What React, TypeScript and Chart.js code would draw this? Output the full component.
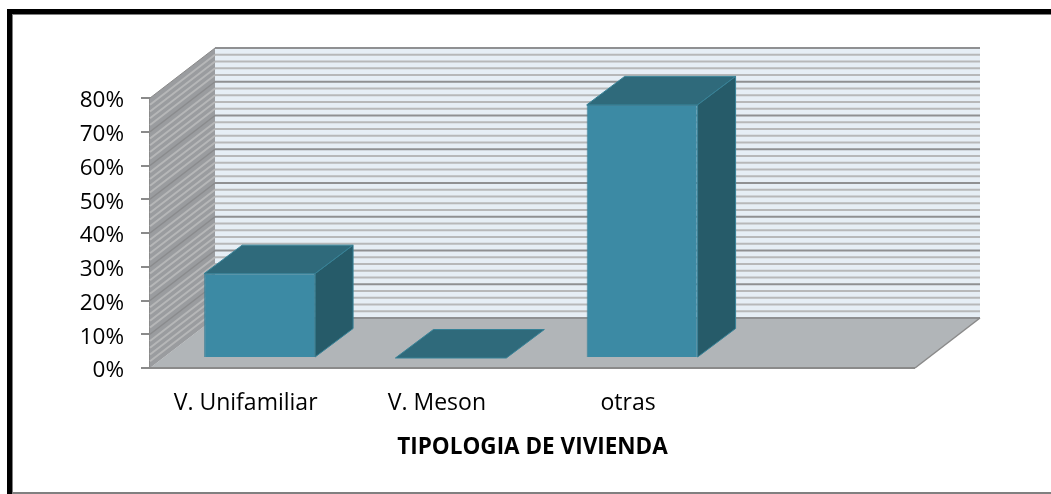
import React, { useEffect, useRef } from "react";
import { Chart, registerables } from "chart.js";

Chart.register(...registerables);

const categories = ["V. Unifamiliar", "V. Meson", "otras", ""];
const shares = [25, 0, 75, null];
const axisMax = 80;
const majorStep = 10;
const minorStep = 2;
const axisTitle = "TIPOLOGIA DE VIVIENDA";

const wallDepth = { x: 65, y: -50 };
const barOffset = { x: 14, y: -10 };
const barDepth = { x: 38, y: -28.5 };

const colors = {
  backWall: "#e6eef5",
  sideWall: "#9a9c9f",
  floor: "#b1b5b8",
  minorBack: "#b7b8b9",
  majorBack: "#8f9092",
  minorSide: "#b6b7b8",
  majorSide: "#8a8b8d",
  edge: "#8a8a8a",
  front: "#3c8aa4",
  frontBorder: "#3f8096",
  top: "#2f6a7b",
  side: "#265b69",
  sideEdge: "#378297",
};

function poly(ctx: CanvasRenderingContext2D, pts: number[][], fill?: string, stroke?: string, lw = 1) {
  ctx.beginPath();
  pts.forEach((p, i) => (i ? ctx.lineTo(p[0], p[1]) : ctx.moveTo(p[0], p[1])));
  ctx.closePath();
  if (fill) {
    ctx.fillStyle = fill;
    ctx.fill();
  }
  if (stroke) {
    ctx.strokeStyle = stroke;
    ctx.lineWidth = lw;
    ctx.stroke();
  }
}

function seg(ctx: CanvasRenderingContext2D, x1: number, y1: number, x2: number, y2: number, c: string, lw: number) {
  ctx.beginPath();
  ctx.moveTo(x1, y1);
  ctx.lineTo(x2, y2);
  ctx.strokeStyle = c;
  ctx.lineWidth = lw;
  ctx.stroke();
}

const frame = {
  id: "frame",
  beforeDraw(chart: any) {
    const { ctx, width, height } = chart;
    ctx.save();
    ctx.fillStyle = "#ffffff";
    ctx.fillRect(0, 0, width, height);
    ctx.fillStyle = "#000000";
    ctx.fillRect(7, 9, width - 7, 5);
    ctx.fillRect(7, 9, 5, height - 9);
    ctx.fillStyle = "#808080";
    ctx.fillRect(12, 14, width - 12, 1);
    ctx.fillRect(12, 14, 1, height - 14);
    ctx.fillRect(12, height - 2, width - 12, 2);
    ctx.restore();
  },
};

const walls = {
  id: "walls",
  beforeDatasetsDraw(chart: any) {
    const { ctx, chartArea: a, scales } = chart;
    const y = scales.y;
    const d = wallDepth;
    ctx.save();
    poly(ctx, [[a.left, a.bottom], [a.right, a.bottom], [a.right + d.x, a.bottom + d.y], [a.left + d.x, a.bottom + d.y]], colors.floor);
    ctx.fillStyle = colors.backWall;
    ctx.fillRect(a.left + d.x, a.top + d.y, a.right - a.left, a.bottom - a.top);
    poly(ctx, [[a.left, a.bottom], [a.left, a.top], [a.left + d.x, a.top + d.y], [a.left + d.x, a.bottom + d.y]], colors.sideWall);
    for (let v = minorStep; v <= axisMax; v += minorStep) {
      const major = v % majorStep === 0;
      const py = y.getPixelForValue(v);
      seg(ctx, a.left + d.x, py + d.y, a.right + d.x, py + d.y, major ? colors.majorBack : colors.minorBack, 2);
      if (v < axisMax) seg(ctx, a.left, py, a.left + d.x, py + d.y, major ? colors.majorSide : colors.minorSide, major ? 1.5 : 2);
    }
    seg(ctx, a.left + d.x, a.bottom + d.y, a.right + d.x, a.bottom + d.y, colors.majorBack, 2);
    seg(ctx, a.left, a.bottom, a.right, a.bottom, colors.edge, 2);
    seg(ctx, a.right, a.bottom, a.right + d.x, a.bottom + d.y, colors.edge, 1.5);
    seg(ctx, a.left, a.top, a.left + d.x, a.top + d.y, colors.edge, 1);
    ctx.restore();
  },
  beforeDatasetDraw(chart: any, args: any) {
    const { ctx } = chart;
    const meta = chart.getDatasetMeta(args.index);
    ctx.save();
    ctx.translate(barOffset.x, barOffset.y);
    const d = barDepth;
    meta.data.forEach((bar: any, i: number) => {
      if (shares[i] === null) return;
      const l = bar.x - bar.width / 2;
      const r = bar.x + bar.width / 2;
      const t = bar.y;
      const b = bar.base;
      poly(ctx, [[l, t], [r, t], [r + d.x, t + d.y], [l + d.x, t + d.y]], colors.top, colors.sideEdge, 1);
      if (b - t > 0.5) {
        poly(ctx, [[r, t], [r + d.x, t + d.y], [r + d.x, b + d.y], [r, b]], colors.side, colors.sideEdge, 1);
      }
    });
  },
  afterDatasetDraw(chart: any) {
    chart.ctx.restore();
  },
};

function shiftLabels(s: any, dy: number) {
  if (s.__shifted) return;
  s.__shifted = true;
  const orig = s.drawLabels.bind(s);
  s.drawLabels = (area: any) => {
    s.ctx.save();
    s.ctx.translate(0, dy);
    orig(area);
    s.ctx.restore();
  };
}

export default function App() {
  const ref = useRef<HTMLCanvasElement>(null);
  useEffect(() => {
    const chart = new Chart(ref.current!, {
      type: "bar",
      data: {
        labels: categories,
        datasets: [
          {
            data: shares,
            backgroundColor: colors.front,
            borderColor: colors.frontBorder,
            borderWidth: (c: any) => (c.raw > 0 ? 1 : 0),
            categoryPercentage: 1,
            barPercentage: 0.58,
            clip: false,
          } as any,
        ],
      },
      plugins: [frame, walls],
      options: {
        animation: false,
        responsive: false,
        layout: { padding: { top: 98, right: 136, left: 0, bottom: 0 } },
        plugins: { legend: { display: false }, tooltip: { enabled: false } },
        scales: {
          x: {
            grid: { display: false },
            border: { display: false },
            ticks: { color: "#000000", font: { family: "Open Sans", size: 23 }, padding: 14, maxRotation: 0, autoSkip: false },
            title: {
              display: true,
              text: axisTitle,
              color: "#000000",
              font: { family: "Open Sans", size: 22.5, weight: "bold" },
              padding: { top: 0, bottom: 33 },
            },
            afterFit(s: any) {
              s.height = 126;
            },
          },
          y: {
            min: 0,
            max: axisMax,
            grid: { drawOnChartArea: false, color: "#8a8a8a", lineWidth: 2, tickLength: 9 },
            border: { display: true, color: "#8a8a8a", width: 2 },
            ticks: {
              stepSize: majorStep,
              color: "#000000",
              font: { family: "Open Sans", size: 22.5 },
              padding: 17,
              callback: (v: any) => `${v}%`,
            },
            afterFit(s: any) {
              s.width = 150;
            },
            afterUpdate(s: any) {
              shiftLabels(s, 3);
            },
          },
        },
      },
    } as any);
    return () => chart.destroy();
  }, []);
  return (
    <div style={{ position: "fixed", left: 0, top: 0, width: 1051, height: 494 }}>
      <canvas ref={ref} width={1051} height={494} style={{ display: "block", width: 1051, height: 494 }} />
    </div>
  );
}
